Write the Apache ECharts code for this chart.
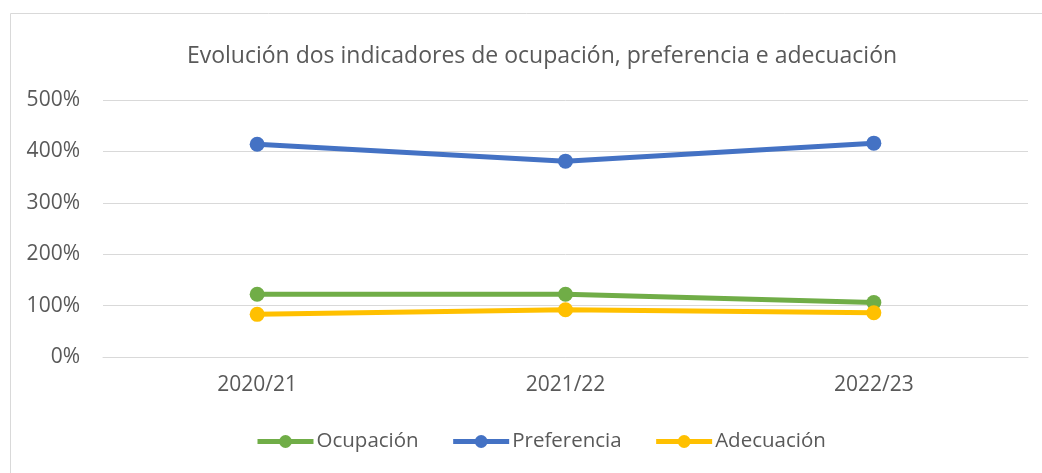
<!DOCTYPE html>
<html>
<head>
<meta charset="utf-8">
<script src="https://cdn.jsdelivr.net/npm/echarts@6/dist/echarts.min.js"></script>
<style>
  html, body { margin: 0; padding: 0; background: #fff; }
  #chart { width: 1042px; height: 473px; }
</style>
</head>
<body>
<div id="chart"></div>
<script>
const years = ['2020/21', '2021/22', '2022/23']
const ocupacion = [122, 122, 106]
const preferencia = [414, 381, 416]
const adecuacion = [83, 92, 86]
const yTicks = [0, 100, 200, 300, 400, 500]

const textColor = '#595959'
const font = 'Open Sans'

const chart = echarts.init(document.getElementById('chart'))

function lineSeries(name, data, color) {
  return {
    name: name,
    type: 'line',
    data: data,
    symbol: 'circle',
    symbolSize: 15,
    lineStyle: { color: color, width: 5 },
    itemStyle: { color: color },
    emphasis: { disabled: true }
  }
}

const option = {
  animation: false,
  textStyle: { fontFamily: font },
  graphic: [
    {
      type: 'rect',
      shape: { x: 10.5, y: 13.5, width: 1100, height: 600 },
      style: { fill: 'none', stroke: '#D9D9D9', lineWidth: 1 },
      silent: true
    }
  ],
  title: {
    text: 'Evolución dos indicadores de ocupación, preferencia e adecuación',
    left: 537,
    top: 40,
    textAlign: 'center',
    textStyle: { color: textColor, fontSize: 23, fontWeight: 'normal', fontFamily: font }
  },
  legend: {
    top: 426,
    left: 250,
    itemWidth: 56,
    itemHeight: 16,
    itemGap: 32,
    lineStyle: { width: 5 },
    textStyle: { color: textColor, fontSize: 20.5, fontFamily: font, padding: [0, 0, 0, -2] },
    data: ['Ocupación', 'Preferencia', 'Adecuación']
  },
  grid: { left: 103, right: 14, top: 100, bottom: 116 },
  xAxis: {
    type: 'category',
    data: years,
    boundaryGap: true,
    axisLine: { lineStyle: { color: '#D9D9D9' } },
    axisTick: { show: false },
    axisLabel: { color: textColor, fontSize: 21, margin: 18 }
  },
  yAxis: {
    type: 'value',
    min: yTicks[0],
    max: yTicks[yTicks.length - 1],
    interval: 100,
    axisLine: { show: false },
    axisTick: { show: false },
    splitLine: { lineStyle: { color: '#D9D9D9', width: 1 } },
    axisLabel: { color: textColor, fontSize: 21, margin: 23, formatter: '{value}%' }
  },
  series: [
    lineSeries('Ocupación', ocupacion, '#70AD47'),
    lineSeries('Preferencia', preferencia, '#4472C4'),
    lineSeries('Adecuación', adecuacion, '#FFC000')
  ]
}

chart.setOption(option)
</script>
</body>
</html>
